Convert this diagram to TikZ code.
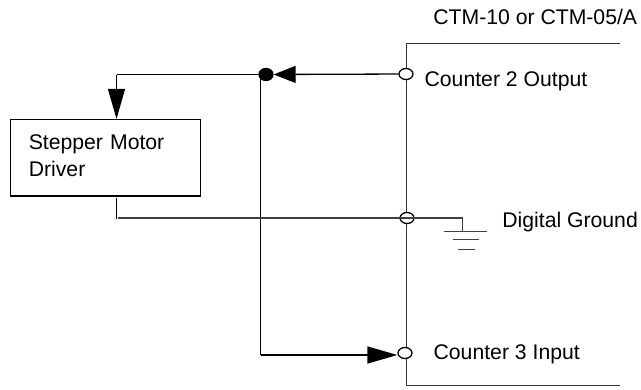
\documentclass[tikz,border=0pt]{standalone}
\usepackage{fontspec}
\setmainfont{Liberation Sans}
\usetikzlibrary{shapes.geometric, arrows.meta, positioning}

\begin{document}
\begin{tikzpicture}[x=1pt, y=-1pt, line width=1.3pt]

        % Define styles
        \tikzstyle{block} = [rectangle, draw, text width=154pt, align=left, minimum height=76.5pt, inner xsep=18pt, font=\fontsize{21.2}{26.7}\selectfont]
        \tikzstyle{port} = [draw, ellipse, fill=white, inner sep=0pt, minimum width=14pt, minimum height=11pt]
        \tikzstyle{junction} = [draw, ellipse, fill=black, inner sep=0pt, minimum width=14pt, minimum height=12pt]
        \tikzstyle{label} = [inner sep=0pt, anchor=base west, font=\fontsize{21.2}{25}\selectfont]
        \tikzstyle{line} = [draw]
        \tikzstyle{arrowline} = [draw, -{Triangle[length=30pt, width=17pt]}]
        \tikzstyle{shortarrow} = [draw, -{Triangle[length=22pt, width=17pt]}]
        \tikzstyle{gndbar} = [draw=black!75, line width=1.5pt]

        \useasboundingbox (0,0) rectangle (641,389);

        % Counter outline
        \coordinate (bartop) at (406.5,43.7);
        \coordinate (barbot) at (406.5,385.7);
        \path [line, draw=black!80, line width=1.5pt] (620,43.7) -- (bartop) -- (barbot) -- (620,385.7);

        % Place nodes
        \node [block] (driver) at (105.8,157.8) {Stepper Motor\\Driver\rule[-5pt]{0pt}{0pt}};
        \node [port] (out2) at (406,74) {};
        \node [port] (dgnd) at (407,218) {};
        \node [port] (in3) at (405,353) {};
        \node [junction] (tee) at (266,74.5) {};

        % Labels
        \node [label] (ctmlabel) at (432.7,24) {CTM-10 or CTM-05/A};
        \node [label] (out2label) at (424,86) {Counter 2 Output};
        \node [label] (dgndlabel) at (501.7,227.7) {Digital Ground};
        \node [label] (in3label) at (433,359) {Counter 3 Input};

        % Helper points
        \coordinate (corner) at (116.5,74.5);
        \coordinate (stubtop) at (116.5,198);
        \coordinate (stubbot) at (116.5,219);
        \coordinate (wirestart) at (118,218);
        \coordinate (gndtop) at (462.3,218);
        \coordinate (gndbar1) at (462.3,231.7);
        \coordinate (teebot) at (260.7,355);

        % Draw edges
        \path [shortarrow] (out2) -- (tee);
        \path [line] (tee) -- (corner);
        \path [arrowline] (corner) -- (corner |- driver.north);
        \path [line] (260.7,74.5) -- (teebot);
        \path [arrowline] (teebot) -- (in3.west |- teebot);
        \path [line] (stubtop) -- (stubbot);
        \path [line, gndbar] (wirestart) -- (dgnd.east);
        \path [line, gndbar] (dgnd.east) -- (gndtop) -- (gndbar1);

        % Ground symbol
        \path [line, gndbar] (444,231.7) -- (487,231.7);
        \path [line, gndbar] (452.7,239.3) -- (479,239.3);
        \path [line, gndbar] (458,249.7) -- (475,249.7);

\end{tikzpicture}
\end{document}
